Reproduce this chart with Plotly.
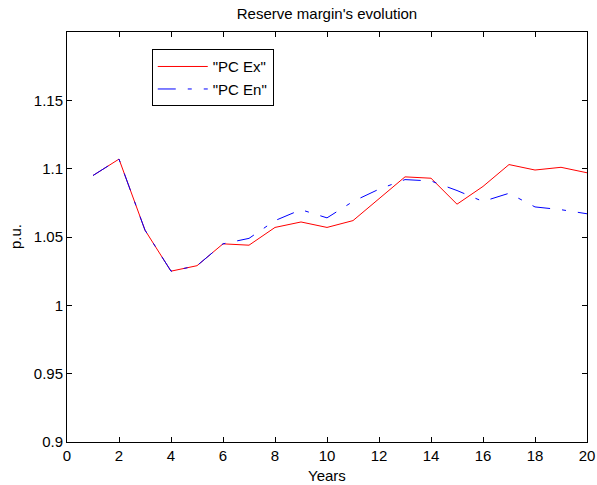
"""Reserve margin's evolution - two scenarios over 20 years."""

import plotly.graph_objects as go

years = list(range(1, 21))
pc_ex = [1.095, 1.107, 1.055, 1.025, 1.029, 1.045, 1.044, 1.057, 1.061, 1.057,
         1.062, 1.078, 1.094, 1.093, 1.074, 1.087, 1.103, 1.099, 1.101, 1.097]
pc_en = [1.095, 1.107, 1.055, 1.025, 1.029, 1.045, 1.049, 1.062, 1.070, 1.064,
         1.076, 1.085, 1.092, 1.091, 1.084, 1.076, 1.082, 1.072, 1.070, 1.067]

x_ticks = list(range(0, 21, 2))
y_ticks = [0.9, 0.95, 1.0, 1.05, 1.1, 1.15]
y_labels = ["0.9", "0.95", "1", "1.05", "1.1", "1.15"]

FONT = "Liberation Sans, Arial, Helvetica, sans-serif"

fig = go.Figure()
fig.add_trace(go.Scatter(x=years, y=pc_ex, name='"PC Ex"', mode="lines",
                         line=dict(color="#ff0000", width=1)))
fig.add_trace(go.Scatter(x=years, y=pc_en, name='"PC En"', mode="lines",
                         line=dict(color="#0000ff", width=1,
                                   dash="18px,12px,4px,12px")))

axis_style = dict(showline=True, mirror="ticks", linecolor="black", linewidth=1,
                  ticks="inside", ticklen=5, tickcolor="black",
                  showgrid=False, zeroline=False, automargin=False,
                  tickfont=dict(size=15, color="black"))

fig.update_layout(
    width=597, height=485,
    paper_bgcolor="white", plot_bgcolor="white",
    font=dict(family=FONT, size=15, color="black"),
    margin=dict(l=67, r=10, t=32, b=43),
    title=dict(text="Reserve margin's evolution", x=(67 + 587) / 2 / 597,
               xanchor="center", y=0.972, yanchor="middle",
               font=dict(size=15)),
    showlegend=True,
    legend=dict(x=0.163, y=0.958, xanchor="left", yanchor="top",
                bgcolor="white", bordercolor="black", borderwidth=1,
                font=dict(size=15), tracegroupgap=0, itemwidth=50),
    # 轴标题用注释放置，位置更接近原图
    annotations=[
        dict(text="Years", xref="paper", yref="paper", x=0.5, y=-0.082,
             xanchor="center", yanchor="middle", showarrow=False,
             font=dict(size=15)),
        dict(text="p.u.", xref="paper", yref="paper", x=-0.1, y=0.5,
             xanchor="center", yanchor="middle", showarrow=False,
             textangle=-90, font=dict(size=15)),
    ],
)
fig.update_xaxes(range=[0, 20], tickvals=x_ticks, **axis_style)
fig.update_yaxes(range=[0.9, 1.2], tickvals=y_ticks, ticktext=y_labels,
                 **axis_style)

fig.write_html("out.html", config={"displayModeBar": False},
               post_script="document.body.style.margin='0';")
